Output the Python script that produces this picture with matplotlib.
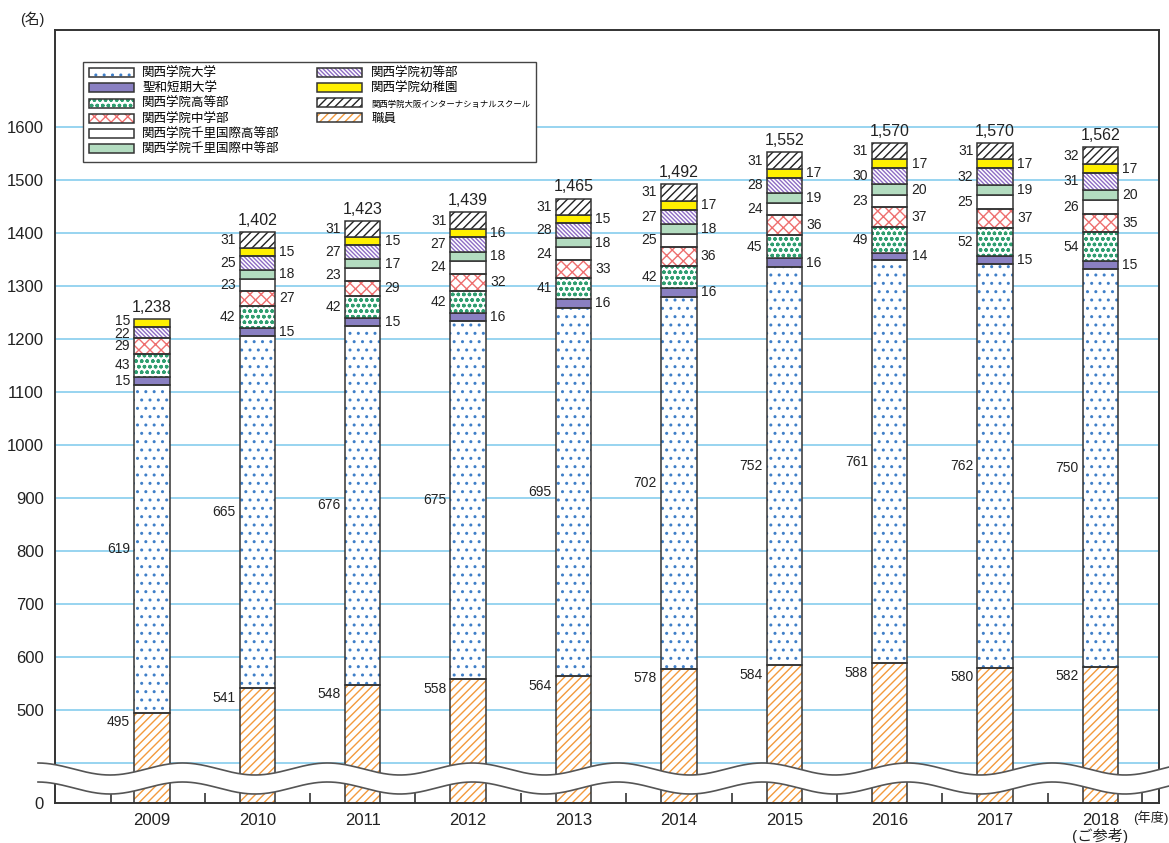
import numpy as np
import matplotlib
matplotlib.use('Agg')
import matplotlib.pyplot as plt
from matplotlib.patches import Patch, Polygon
from matplotlib.lines import Line2D
from matplotlib.legend_handler import HandlerTuple

plt.rcParams['font.family'] = ['Liberation Sans', 'Noto Sans CJK JP']
plt.rcParams['hatch.linewidth'] = 1.0

# ---------------- data ----------------
years = ['2009', '2010', '2011', '2012', '2013', '2014', '2015', '2016', '2017', '2018']
staff = [495, 541, 548, 558, 564, 578, 584, 588, 580, 582]          # 職員
univ = [619, 665, 676, 675, 695, 702, 752, 761, 762, 750]           # 関西学院大学
seiwa = [15, 15, 15, 16, 16, 16, 16, 14, 15, 15]                    # 聖和短期大学
high = [43, 42, 42, 42, 41, 42, 45, 49, 52, 54]                     # 高等部
junior = [29, 27, 29, 32, 33, 36, 36, 37, 37, 35]                   # 中学部
senri_high = [0, 23, 23, 24, 24, 25, 24, 23, 25, 26]                # 千里国際高等部
senri_mid = [0, 18, 17, 18, 18, 18, 19, 20, 19, 20]                 # 千里国際中等部
elem = [22, 25, 27, 27, 28, 27, 28, 30, 32, 31]                     # 初等部
kinder = [15, 15, 15, 16, 15, 17, 17, 17, 17, 17]                   # 幼稚園
osaka = [0, 31, 31, 31, 31, 31, 31, 31, 31, 32]                     # 大阪インター
totals = [1238, 1402, 1423, 1439, 1465, 1492, 1552, 1570, 1570, 1562]

names = {
    'staff': '職員', 'univ': '関西学院大学', 'seiwa': '聖和短期大学',
    'high': '関西学院高等部', 'junior': '関西学院中学部',
    'senri_high': '関西学院千里国際高等部', 'senri_mid': '関西学院千里国際中等部',
    'elem': '関西学院初等部', 'kinder': '関西学院幼稚園',
    'osaka': '関西学院大阪インターナショナルスクール',
}

# stack order bottom -> top ; (key, values, face, hatch colour, hatch, label side)
series = [
    ('staff', staff, 'white', '#f39a3c', '////', 'top'),
    ('univ', univ, 'white', '#3f7fc8', '..', 'mid'),
    ('seiwa', seiwa, '#8a80c2', None, None, 'R'),
    ('high', high, 'white', '#2f9e70', '...ooo', 'L'),
    ('junior', junior, 'white', '#ee6f6f', 'xxx', 'R'),
    ('senri_high', senri_high, 'white', None, None, 'L'),
    ('senri_mid', senri_mid, '#b3dcc0', None, None, 'R'),
    ('elem', elem, 'white', '#8e6cc4', '\\' * 8, 'L'),
    ('kinder', kinder, '#fff000', None, None, 'R'),
    ('osaka', osaka, 'white', '#222222', '////', 'L'),
]
# small vertical nudges (points) for crowded labels in the first bar
nudge_first = {'kinder': 1.5, 'elem': -0.8}

W, H = 1169, 843
fig = plt.figure(figsize=(W / 100, H / 100), dpi=100)
ax = fig.add_axes([55 / W, 1 - 803 / H, (1159 - 55) / W, (803 - 30) / H])

ybot, ytop = 324.5, 1783
ax.set_ylim(ybot, ytop)
ax.set_xlim(-0.92, 9.555)

edge = '#333333'
bw = 0.335
x = np.arange(len(years))

for v in range(400, 1601, 100):
    ax.axhline(v, color='#86cdee', lw=1.2, zorder=1)

cum = np.zeros(len(years))
for key, vals, face, hc, hatch, side in series:
    vals = np.array(vals, dtype=float)
    m = vals > 0
    if hatch:
        ax.bar(x[m], vals[m], bottom=cum[m], width=bw, color=face, edgecolor=hc,
               hatch=hatch, linewidth=0, zorder=2)
        ax.bar(x[m], vals[m], bottom=cum[m], width=bw, fill=False, edgecolor=edge,
               linewidth=1.1, zorder=2.5)
    else:
        ax.bar(x[m], vals[m], bottom=cum[m], width=bw, color=face, edgecolor=edge,
               linewidth=1.1, zorder=2)
    for i in np.where(m)[0]:
        val = vals[i]
        lab = f'{int(val)}'
        if side == 'top':
            ax.annotate(lab, (x[i] - bw / 2, cum[i] + val), xytext=(-3, -2),
                        textcoords='offset points', ha='right', va='top', fontsize=10,
                        color='#222')
        else:
            s = side
            if i == 0 or side == 'mid':
                s = 'L'
            dy = nudge_first.get(key, 0) if i == 0 else 0
            yc = cum[i] + val / 2
            if s == 'L':
                ax.annotate(lab, (x[i] - bw / 2, yc), xytext=(-3, dy),
                            textcoords='offset points', ha='right', va='center',
                            fontsize=10, color='#222')
            else:
                ax.annotate(lab, (x[i] + bw / 2, yc), xytext=(3, dy),
                            textcoords='offset points', ha='left', va='center',
                            fontsize=10, color='#222')
    cum = cum + vals

for i, t in enumerate(totals):
    ax.annotate(f'{t:,}', (x[i], cum[i]), xytext=(0, 3), textcoords='offset points',
                ha='center', va='bottom', fontsize=11.5, color='#222')

# axes styling
for sp in ax.spines.values():
    sp.set_color('#333')
    sp.set_linewidth(1.4)
yt = [ybot] + list(range(500, 1601, 100))
ax.set_yticks(yt)
ax.set_yticklabels(['0'] + [str(v) for v in range(500, 1601, 100)], fontsize=12, color='#222')
ax.tick_params(axis='y', length=0, pad=8)
ax.set_xticks(x)
ax.set_xticklabels(years, fontsize=12, color='#222')
ax.tick_params(axis='x', which='major', length=0, pad=7)
ax.set_xticks([-0.39] + [i + 0.5 for i in range(9)] + [9.39], minor=True)
ax.tick_params(axis='x', which='minor', direction='in', length=7, width=1.2, color='#333')

ax.annotate('(ご参考)', (9, ybot), xytext=(0, -23.5), textcoords='offset points',
            ha='center', va='center', fontsize=11, color='#222')
fig.text(1133 / W, 1 - 818 / H, '(年度)', ha='left', va='center', fontsize=9.5, color='#222')
fig.text(20 / W, 1 - 19 / H, '(名)', ha='left', va='center', fontsize=10.5, color='#222')

# legend
def hp(face, hc, hatch):
    if hatch:
        return (Patch(facecolor=face, edgecolor=hc, hatch=hatch, linewidth=0),
                Patch(fill=False, edgecolor=edge, linewidth=1.1))
    return Patch(facecolor=face, edgecolor=edge, linewidth=1.1)

sd = {s[0]: s for s in series}
order = ['univ', 'seiwa', 'high', 'junior', 'senri_high', 'senri_mid',
         'elem', 'kinder', 'osaka', 'staff']
handles, labels = [], []
for k in order:
    _, _, face, hc, hatch, _ = sd[k]
    handles.append(hp(face, hc, hatch))
    labels.append(names[k])
for _ in range(2):
    handles.append(Patch(visible=False))
    labels.append('')

leg = ax.legend(handles, labels, ncol=2, loc='upper left',
                bbox_to_anchor=(83 / W, 1 - 62 / H), bbox_transform=fig.transFigure,
                borderaxespad=0, fancybox=False, edgecolor='#444', framealpha=1,
                fontsize=9, handlelength=3.6, handleheight=0.75, labelspacing=0.26,
                handletextpad=0.7, columnspacing=3.0, borderpad=0.45,
                handler_map={tuple: HandlerTuple(ndivide=1, pad=0)})
leg.get_frame().set_linewidth(1.0)
leg.set_zorder(6)
for t in leg.get_texts():
    if 'インター' in t.get_text():
        t.set_fontsize(6.0)

# wavy axis break
xs = np.linspace(38, W, 800)
yu = 769 + 6 * np.cos(2 * np.pi * (xs - 110) / 145)
yl = yu + 19
fx = xs / W
poly = np.vstack([np.column_stack([fx, 1 - yu / H]),
                  np.column_stack([fx[::-1], 1 - yl[::-1] / H])])
fig.add_artist(Polygon(poly, closed=True, facecolor='white', edgecolor='none',
                       transform=fig.transFigure, zorder=3))
fig.add_artist(Line2D(fx, 1 - yu / H, color='#555', lw=1.2, transform=fig.transFigure, zorder=4))
fig.add_artist(Line2D(fx, 1 - yl / H, color='#555', lw=1.2, transform=fig.transFigure, zorder=4))

fig.savefig('out.png', dpi=100)
